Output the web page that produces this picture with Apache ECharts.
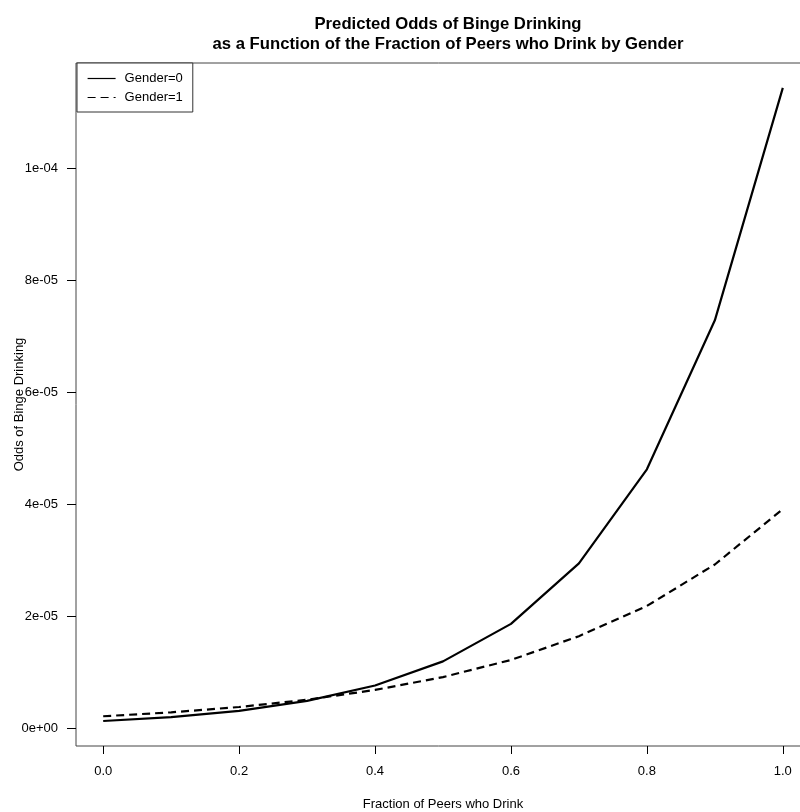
<!DOCTYPE html>
<html>
<head>
<meta charset="utf-8">
<script src="https://cdn.jsdelivr.net/npm/echarts@6/dist/echarts.min.js"></script>
<style>html,body{margin:0;padding:0;background:#fff}#c{width:800px;height:812px}</style>
</head>
<body>
<div id="c"></div>
<script>
var fraction = [0.0, 0.1, 0.2, 0.3, 0.4, 0.5, 0.6, 0.7, 0.8, 0.9, 1.0];
var gender0 = [1.25e-6, 1.95e-6, 3.05e-6, 4.85e-6, 7.6e-6, 11.9e-6, 18.6e-6, 29.4e-6, 46.2e-6, 72.8e-6, 114.3e-6];
var gender1 = [2.1e-6, 2.8e-6, 3.75e-6, 5.05e-6, 6.8e-6, 9.1e-6, 12.15e-6, 16.4e-6, 21.8e-6, 29.2e-6, 39.1e-6];
var xTicks = [0, 0.2, 0.4, 0.6, 0.8, 1.0];
var xTickLabels = ['0.0', '0.2', '0.4', '0.6', '0.8', '1.0'];
var yTicks = [0, 2e-5, 4e-5, 6e-5, 8e-5, 1e-4];
var yTickLabels = ['0e+00', '2e-05', '4e-05', '6e-05', '8e-05', '1e-04'];
var seriesNames = ['Gender=0', 'Gender=1'];

function lookup(ticks, labels, v) {
  var best = 0, bd = Infinity;
  for (var i = 0; i < ticks.length; i++) {
    var d = Math.abs(ticks[i] - v);
    if (d < bd) { bd = d; best = i; }
  }
  return labels[best];
}

var FONT = '"Liberation Sans", Arial, Helvetica, sans-serif';
var chart = echarts.init(document.getElementById('c'), null, {renderer: 'canvas'});
chart.setOption({
  animation: false,
  backgroundColor: '#fff',
  title: {
    text: 'Predicted Odds of Binge Drinking\nas a Function of the Fraction of Peers who Drink by Gender',
    left: 443, top: 9, textAlign: 'center',
    textStyle: {fontFamily: FONT, fontSize: 16.7, fontWeight: 'bold', color: '#000', lineHeight: 20}
  },
  legend: {
    data: seriesNames,
    orient: 'vertical',
    left: 77, top: 63,
    padding: [9, 10, 8, 10],
    itemGap: 6,
    itemWidth: 28, itemHeight: 12,
    borderColor: '#333', borderWidth: 1, borderRadius: 0,
    backgroundColor: '#fff',
    itemStyle: {opacity: 0},
    lineStyle: {width: 1.2},
    textStyle: {fontFamily: FONT, fontSize: 13, color: '#000', padding: [0, 0, 0, 4]}
  },
  grid: {
    left: 76, top: 63, width: 734, height: 683,
    show: true, borderColor: '#444', borderWidth: 1,
    containLabel: false, outerBoundsMode: 'none'
  },
  xAxis: {
    type: 'value', min: -0.04, max: 1.04,
    splitLine: {show: false},
    axisLine: {show: false, onZero: false},
    axisTick: {show: true, inside: false, length: 8, lineStyle: {color: '#000'}, customValues: xTicks},
    axisLabel: {
      customValues: xTicks, margin: 19,
      fontFamily: FONT, fontSize: 13, color: '#000',
      formatter: function (v) { return lookup(xTicks, xTickLabels, v); }
    },
    name: 'Fraction of Peers who Drink', nameLocation: 'middle', nameGap: 52,
    nameMoveOverlap: false,
    nameTextStyle: {fontFamily: FONT, fontSize: 13, color: '#000'}
  },
  yAxis: {
    type: 'value', min: -3.21e-6, max: 1.1875e-4,
    splitLine: {show: false},
    axisLine: {show: false, onZero: false},
    axisTick: {show: true, inside: false, length: 9, lineStyle: {color: '#000'}, customValues: yTicks},
    axisLabel: {
      customValues: yTicks, margin: 18,
      fontFamily: FONT, fontSize: 13, color: '#000',
      formatter: function (v) { return lookup(yTicks, yTickLabels, v); }
    },
    name: 'Odds of Binge Drinking', nameLocation: 'middle', nameGap: 50,
    nameMoveOverlap: false,
    nameTextStyle: {fontFamily: FONT, fontSize: 13, color: '#000'}
  },
  series: [
    {
      name: seriesNames[0], type: 'line', symbol: 'none',
      data: fraction.map(function (x, i) { return [x, gender0[i]]; }),
      lineStyle: {color: '#000', width: 2.2, type: 'solid'},
      itemStyle: {color: '#000'}
    },
    {
      name: seriesNames[1], type: 'line', symbol: 'none',
      data: fraction.map(function (x, i) { return [x, gender1[i]]; }),
      lineStyle: {color: '#000', width: 2.2, type: [8, 5]},
      itemStyle: {color: '#000'}
    }
  ]
});
</script>
</body>
</html>
